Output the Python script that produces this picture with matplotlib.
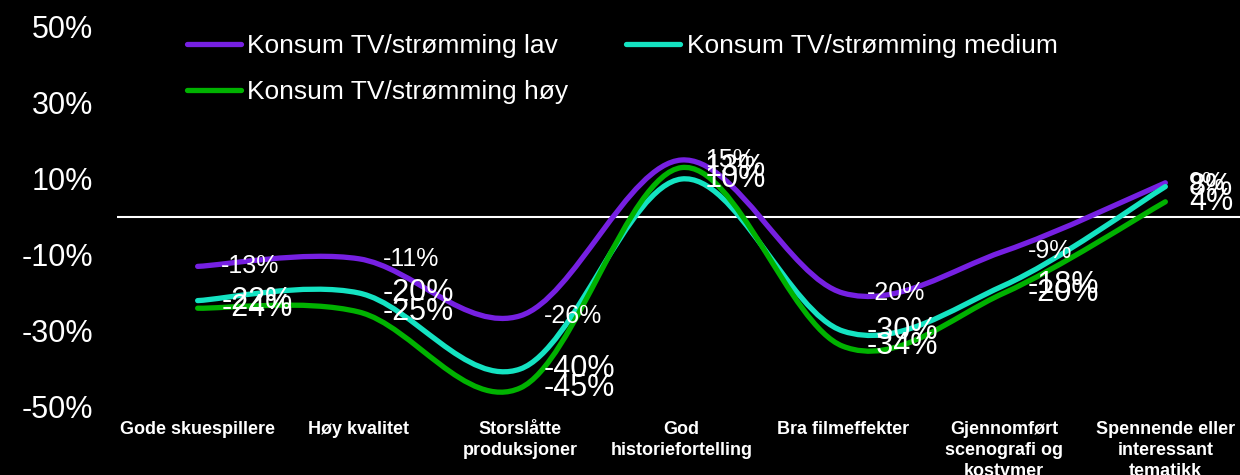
import matplotlib.pyplot as plt
from matplotlib.path import Path
from matplotlib.patches import PathPatch
from matplotlib.lines import Line2D
import numpy as np

categories = ['Gode skuespillere', 'Høy kvalitet', 'Storslåtte\nproduksjoner',
              'God\nhistoriefortelling', 'Bra filmeffekter',
              'Gjennomført\nscenografi og\nkostymer',
              'Spennende eller\ninteressant\ntematikk']
lav = [-13, -11, -26, 15, -20, -9, 9]
medium = [-22, -20, -40, 10, -30, -18, 8]
hoy = [-24, -25, -45, 13, -34, -20, 4]

series_names = ['Konsum TV/strømming lav', 'Konsum TV/strømming medium', 'Konsum TV/strømming høy']
colors = ['#7620E2', '#14E3C2', '#00B200']
label_sizes = [18, 22, 22]

plt.rcParams['font.family'] = ['Liberation Sans', 'DejaVu Sans']


def smooth_path(xs, ys):
    # excel-like smoothed line: bezier segments through every point
    pts = np.column_stack([xs, ys]).astype(float)
    n = len(pts)
    verts = [pts[0]]
    codes = [Path.MOVETO]
    for i in range(n - 1):
        p0 = pts[max(i - 1, 0)]
        p1 = pts[i]
        p2 = pts[i + 1]
        p3 = pts[min(i + 2, n - 1)]
        c1 = p1 + (p2 - p0) / 6.0
        c2 = p2 - (p3 - p1) / 6.0
        verts += [c1, c2, p2]
        codes += [Path.CURVE4] * 3
    return Path(verts, codes)


fig = plt.figure(figsize=(12.4, 4.75), dpi=100, facecolor='black')
ax = fig.add_axes([117 / 1240, 68 / 475, 1129 / 1240, 380 / 475])
ax.set_facecolor('black')

x = np.arange(len(categories))
ax.axhline(0, color='white', lw=1.5, zorder=1)

handles = []
for vals, name, col in zip([lav, medium, hoy], series_names, colors):
    patch = PathPatch(smooth_path(x, vals), facecolor='none', edgecolor=col,
                      lw=3.8, capstyle='round', joinstyle='round', zorder=2)
    ax.add_patch(patch)
    handles.append(Line2D([], [], color=col, lw=3.8, solid_capstyle='round'))

for vals, fs in zip([lav, medium, hoy], label_sizes):
    for xi, v in zip(x, vals):
        ax.annotate('%d%%' % v, xy=(xi, v), xytext=(17, 0), textcoords='offset points',
                    ha='left', va='center', color='white', fontsize=fs, zorder=5)

ax.set_xlim(-0.5, 6.5)
ax.set_ylim(-50, 50)
ax.set_yticks([-50, -30, -10, 10, 30, 50])
ax.set_yticklabels(['%d%%' % t for t in [-50, -30, -10, 10, 30, 50]])
ax.set_xticks(x)
ax.set_xticklabels(categories, fontweight='bold', fontsize=13, color='white', linespacing=1.3)
ax.tick_params(axis='y', length=0, pad=17, labelsize=22, labelcolor='white')
ax.tick_params(axis='x', length=0, pad=10)
for s in ax.spines.values():
    s.set_visible(False)

leg = fig.legend([handles[0], handles[2], handles[1]],
                 [series_names[0], series_names[2], series_names[1]],
                 ncol=2, loc='upper left', bbox_to_anchor=(187 / 1240, 1 - 34 / 475),
                 frameon=False, fontsize=19, labelcolor='white',
                 handlelength=2.05, handletextpad=0.23, columnspacing=2.2,
                 labelspacing=0.85, borderaxespad=0, borderpad=0)

fig.savefig('out.png', dpi=100, facecolor='black')
